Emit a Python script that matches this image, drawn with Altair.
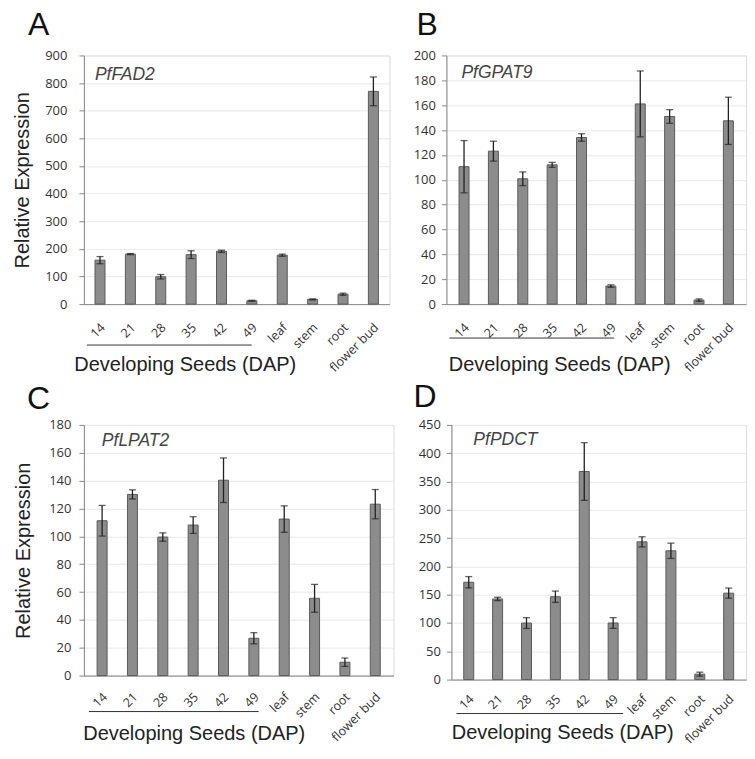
import altair as alt
import pandas as pd

categories = ["14", "21", "28", "35", "42", "49", "leaf", "stem", "root", "flower bud"]

fad2_mean = [159, 181, 99, 179, 191, 12, 177, 17, 36, 770]
fad2_err = [13, 2, 8, 14, 4, 2, 4, 2, 4, 52]
gpat9_mean = [110.5, 123, 100.8, 112, 134, 14.5, 161, 150.9, 3.2, 147.4]
gpat9_err = [21, 8, 5.5, 2, 3, 1, 26.5, 5.5, 1, 19]
lpat2_mean = [111.2, 130.1, 99.5, 108.1, 140.3, 26.8, 112.4, 55.5, 9.6, 123.1]
lpat2_err = [11, 3.3, 3, 6, 16, 4, 9.5, 10, 3, 10.5]
pdct_mean = [172, 142.5, 99.9, 146.4, 367.7, 100, 243.4, 227.6, 9.6, 152.7]
pdct_err = [10, 3, 9.5, 10, 51, 9.5, 9, 13.5, 3.5, 9]

genes = ["PfFAD2", "PfGPAT9", "PfLPAT2", "PfPDCT"]
letters = ["A", "B", "C", "D"]
y_max = [900, 200, 180, 450]
y_step = [100, 20, 20, 50]
x_title = "Developing Seeds (DAP)"
y_title = "Relative Expression"

SANS = "Liberation Sans"
TICKFONT = "Open Sans"


def panel(mean, err, gene, letter, ymax, ystep, lay):
    df = pd.DataFrame({"cat": categories, "mean": mean, "err": err})
    df["lo"] = df["mean"] - df["err"]
    df["hi"] = df["mean"] + df["err"]
    base = alt.Chart(df)
    xscale = alt.Scale(domain=categories, paddingInner=0, paddingOuter=lay["po"])
    yscale = alt.Scale(domain=[0, ymax], nice=False, zero=True)

    xaxis = alt.Axis(
        title=x_title, labelAngle=315, labelAlign="right", labelBaseline="middle",
        labelPadding=lay["lp"], labelOffset=3, ticks=False, domainColor="#888", domainWidth=1,
        labelFont=TICKFONT, labelFontSize=12.5, labelColor="#333",
        titleX=lay["tx"], titleY=lay["ty"], titleAlign="center", titleBaseline="middle",
        titleFont=SANS, titleFontSize=20, titleFontWeight="normal", titleColor="#222",
    )
    ykw = dict(
        values=list(range(0, ymax + 1, ystep)), grid=True, gridColor="#e8e8e8",
        domainColor="#888", tickColor="#888", tickSize=5, labelPadding=lay["ylp"],
        labelFont=TICKFONT, labelFontSize=13, labelColor="#333",
    )
    if lay["ytitle"]:
        ykw.update(title=y_title, titleFont=SANS, titleFontSize=20,
                   titleFontWeight="normal", titleColor="#222", titlePadding=lay["ytp"])
    else:
        ykw.update(title="")
    yaxis = alt.Axis(**ykw)

    X = alt.X("cat:N", sort=categories, scale=xscale, axis=xaxis)

    bars = base.mark_bar(size=10, color="#8c8c8c", stroke="#5a5a5a", strokeWidth=1).encode(
        x=X, y=alt.Y("mean:Q", scale=yscale, axis=yaxis),
    )
    rule = base.mark_rule(color="#222", strokeWidth=1.3).encode(
        x=X, y=alt.Y("lo:Q", scale=yscale, axis=yaxis), y2="hi:Q")
    cap_lo = base.mark_tick(orient="horizontal", size=7, thickness=1.3, color="#222").encode(
        x=X, y=alt.Y("lo:Q", scale=yscale, axis=yaxis))
    cap_hi = base.mark_tick(orient="horizontal", size=7, thickness=1.3, color="#222").encode(
        x=X, y=alt.Y("hi:Q", scale=yscale, axis=yaxis))

    label = alt.Chart(pd.DataFrame({"g": [gene]})).mark_text(
        align="left", baseline="middle", fontStyle="italic", fontSize=17.5,
        font=SANS, color="#444").encode(
        text="g:N", x=alt.value(lay["gx"]), y=alt.value(lay["gy"]))

    panel_letter = alt.Chart(pd.DataFrame({"l": [letter]})).mark_text(
        align="left", baseline="top", fontSize=32, font=SANS, color="#111").encode(
        text="l:N", x=alt.value(lay["lx"]), y=alt.value(lay["ly"] - 25.3))

    underline = alt.Chart(pd.DataFrame({"u": [0]})).mark_rule(color="#333", strokeWidth=1).encode(
        x=alt.value(lay["ux0"]), x2=alt.value(lay["ux1"]), y=alt.value(lay["h"] + lay["uy"]))

    return alt.layer(bars, rule, cap_lo, cap_hi, label, panel_letter, underline).properties(
        width=lay["w"], height=lay["h"],
    )


layA = dict(w=306, h=249, po=0.03, lp=21, tx=101, ty=60, ylp=12, ytitle=True, ytp=12,
            gx=11, gy=20, ux0=3, ux1=168, uy=41, lx=-56, ly=-20)
layB = dict(w=300, h=249, po=0.1, lp=21, tx=113, ty=60, ylp=6, ytitle=False, ytp=0,
            gx=15, gy=18, ux0=3, ux1=168, uy=34, lx=-30, ly=-20)
layC = dict(w=310, h=251, po=0.1, lp=19, tx=110, ty=58, ylp=8, ytitle=True, ytp=15,
            gx=18, gy=16, ux0=5, ux1=175, uy=36, lx=-57, ly=-16)
layD = dict(w=295, h=255, po=0.1, lp=17, tx=111, ty=53, ylp=6, ytitle=False, ytp=0,
            gx=22, gy=15, ux0=5, ux1=172, uy=34, lx=-38, ly=-18)

A = panel(fad2_mean, fad2_err, genes[0], letters[0], y_max[0], y_step[0], layA)
B = panel(gpat9_mean, gpat9_err, genes[1], letters[1], y_max[1], y_step[1], layB)
C = panel(lpat2_mean, lpat2_err, genes[2], letters[2], y_max[2], y_step[2], layC)
D = panel(pdct_mean, pdct_err, genes[3], letters[3], y_max[3], y_step[3], layD)

chart = alt.vconcat(
    alt.hconcat(A, B, spacing=57, bounds="flush"),
    alt.hconcat(C, D, spacing=58, bounds="flush"),
    spacing=370, bounds="flush",
).properties(
    padding={"left": 4, "top": 0, "right": 0, "bottom": 0}
).configure_view(stroke="#888", strokeWidth=1).configure(background="white")

chart.save("out.html", embed_options={"renderer": "svg", "actions": False})
